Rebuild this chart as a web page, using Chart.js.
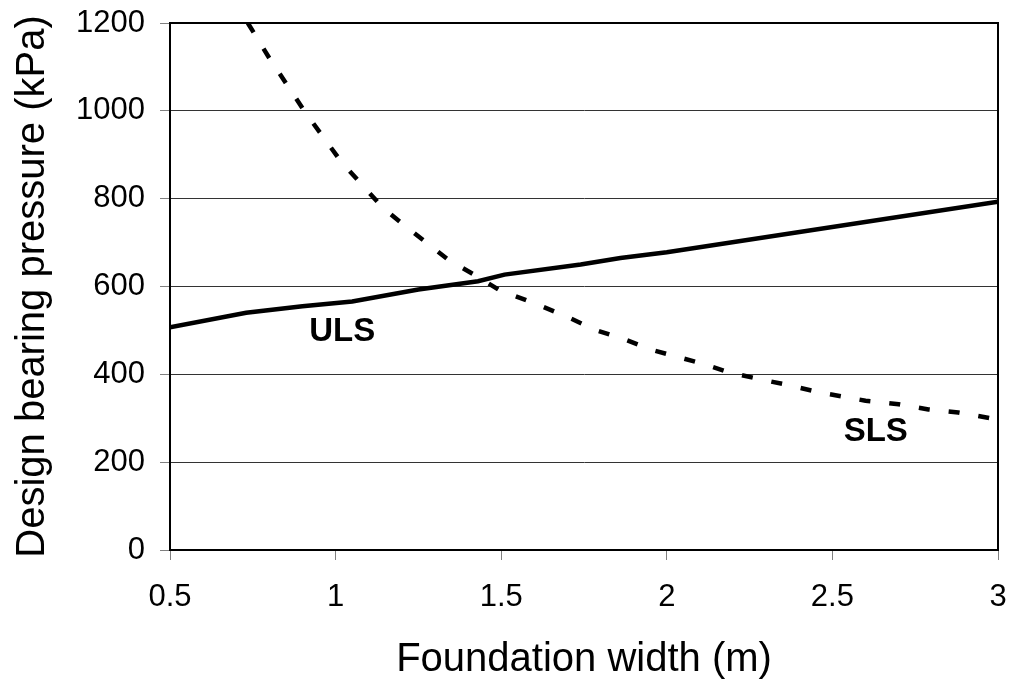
<!DOCTYPE html>
<html>
<head>
<meta charset="utf-8">
<script src="https://cdn.jsdelivr.net/npm/chart.js@4.4.1/dist/chart.umd.min.js"></script>
<style>
  html, body { margin: 0; padding: 0; background: #ffffff; }
  #wrap { width: 1012px; height: 685px; position: relative; }
</style>
</head>
<body>
<div id="wrap"><canvas id="c" width="1012" height="685"></canvas></div>
<script>
// ---- data ----
const xTicks = [0.5, 1, 1.5, 2, 2.5, 3];
const xTickLabels = ['0.5', '1', '1.5', '2', '2.5', '3'];
const yTickLabels = ['0', '200', '400', '600', '800', '1000', '1200'];

const ulsX = [0.5, 0.73, 0.9, 1.05, 1.25, 1.43, 1.51, 1.74, 1.86, 2.0, 3.0];
const ulsY = [507, 540, 555, 566, 593, 612, 627, 650, 665, 678, 793];

const slsX = [0.735, 0.80, 0.907, 1.017, 1.143, 1.218, 1.338, 1.42, 1.494, 1.613, 1.699, 1.785, 1.871, 1.958, 2.10, 2.19, 2.28, 2.37, 2.46, 2.60, 2.70, 2.79, 2.88, 3.0];
const slsY = [1200, 1120, 998, 884, 779, 733, 662, 626, 592, 558, 531, 501, 480, 455, 426, 404, 389, 375, 359, 340, 332, 320, 313, 297];

const seriesNames = ['ULS', 'SLS'];
const seriesLabelX = [1.02, 2.631];
const seriesLabelY = [496, 269];

const xTitle = 'Foundation width (m)';
const yTitle = 'Design bearing pressure (kPa)';

// ---- build ----
const toPts = (xs, ys) => xs.map((x, i) => ({ x: x, y: ys[i] }));
const FONT = "'Liberation Sans', Arial, Helvetica, sans-serif";

const frame = {
  id: 'frame',
  afterDatasetsDraw(chart) {
    const { ctx, chartArea: a } = chart;
    ctx.save();
    ctx.strokeStyle = '#000';
    ctx.lineWidth = 2;
    ctx.beginPath();
    ctx.moveTo(a.left, a.top);
    ctx.lineTo(a.right, a.top);
    ctx.lineTo(a.right, a.bottom);
    ctx.stroke();
    ctx.restore();
  }
};

const seriesText = {
  id: 'seriesText',
  afterDraw(chart) {
    const { ctx } = chart;
    const xs = chart.scales.x, ys = chart.scales.y;
    ctx.save();
    ctx.fillStyle = '#000';
    ctx.font = 'bold 33px ' + FONT;
    ctx.textAlign = 'center';
    ctx.textBaseline = 'middle';
    seriesNames.forEach((n, i) => {
      ctx.fillText(n, xs.getPixelForValue(seriesLabelX[i]), ys.getPixelForValue(seriesLabelY[i]));
    });
    ctx.restore();
  }
};

function zeroPad(s) {
  s.paddingTop = 0; s.paddingBottom = 0; s.paddingLeft = 0; s.paddingRight = 0;
}

new Chart(document.getElementById('c'), {
  type: 'line',
  data: {
    datasets: [
      {
        label: seriesNames[0],
        data: toPts(ulsX, ulsY),
        borderColor: '#000',
        borderWidth: 4.5,
        pointRadius: 0,
        tension: 0,
        fill: false
      },
      {
        label: seriesNames[1],
        data: toPts(slsX, slsY),
        borderColor: '#000',
        borderWidth: 4.5,
        borderDash: [11, 19],
        borderCapStyle: 'butt',
        pointRadius: 0,
        tension: 0,
        fill: false
      }
    ]
  },
  options: {
    responsive: false,
    animation: false,
    devicePixelRatio: 1,
    layout: { padding: { left: 0, right: 14, top: 23, bottom: 0 } },
    plugins: {
      legend: { display: false },
      tooltip: { enabled: false }
    },
    scales: {
      x: {
        type: 'linear',
        min: 0.5,
        max: 3,
        afterFit(s) { s.height = 135; zeroPad(s); },
        afterBuildTicks(s) { s.ticks = xTicks.map(v => ({ value: v })); },
        ticks: {
          callback(v) { const i = xTicks.indexOf(v); return i >= 0 ? xTickLabels[i] : ''; },
          color: '#000',
          font: { family: FONT, size: 31 },
          padding: 19,
          maxRotation: 0,
          autoSkip: false
        },
        grid: {
          drawOnChartArea: false,
          drawTicks: true,
          tickLength: 10,
          color: '#808080'
        },
        border: { display: true, color: '#000', width: 2 },
        title: {
          display: true,
          text: xTitle,
          color: '#000',
          font: { family: FONT, size: 40, lineHeight: 1 },
          padding: { top: 0, bottom: 5 }
        }
      },
      y: {
        type: 'linear',
        min: 0,
        max: 1200,
        afterFit(s) { s.width = 170; zeroPad(s); },
        ticks: {
          stepSize: 200,
          callback(v) { const i = Math.round(v / 200); return yTickLabels[i] !== undefined ? yTickLabels[i] : ''; },
          color: '#000',
          font: { family: FONT, size: 31 },
          padding: 15
        },
        grid: {
          color: '#333',
          lineWidth: 1,
          drawTicks: true,
          tickLength: 10,
          tickColor: '#808080'
        },
        border: { display: true, color: '#000', width: 2 },
        title: {
          display: true,
          text: yTitle,
          color: '#000',
          font: { family: FONT, size: 40, lineHeight: 1 },
          padding: { top: 13, bottom: 0 }
        }
      }
    }
  },
  plugins: [frame, seriesText]
});
</script>
</body>
</html>
